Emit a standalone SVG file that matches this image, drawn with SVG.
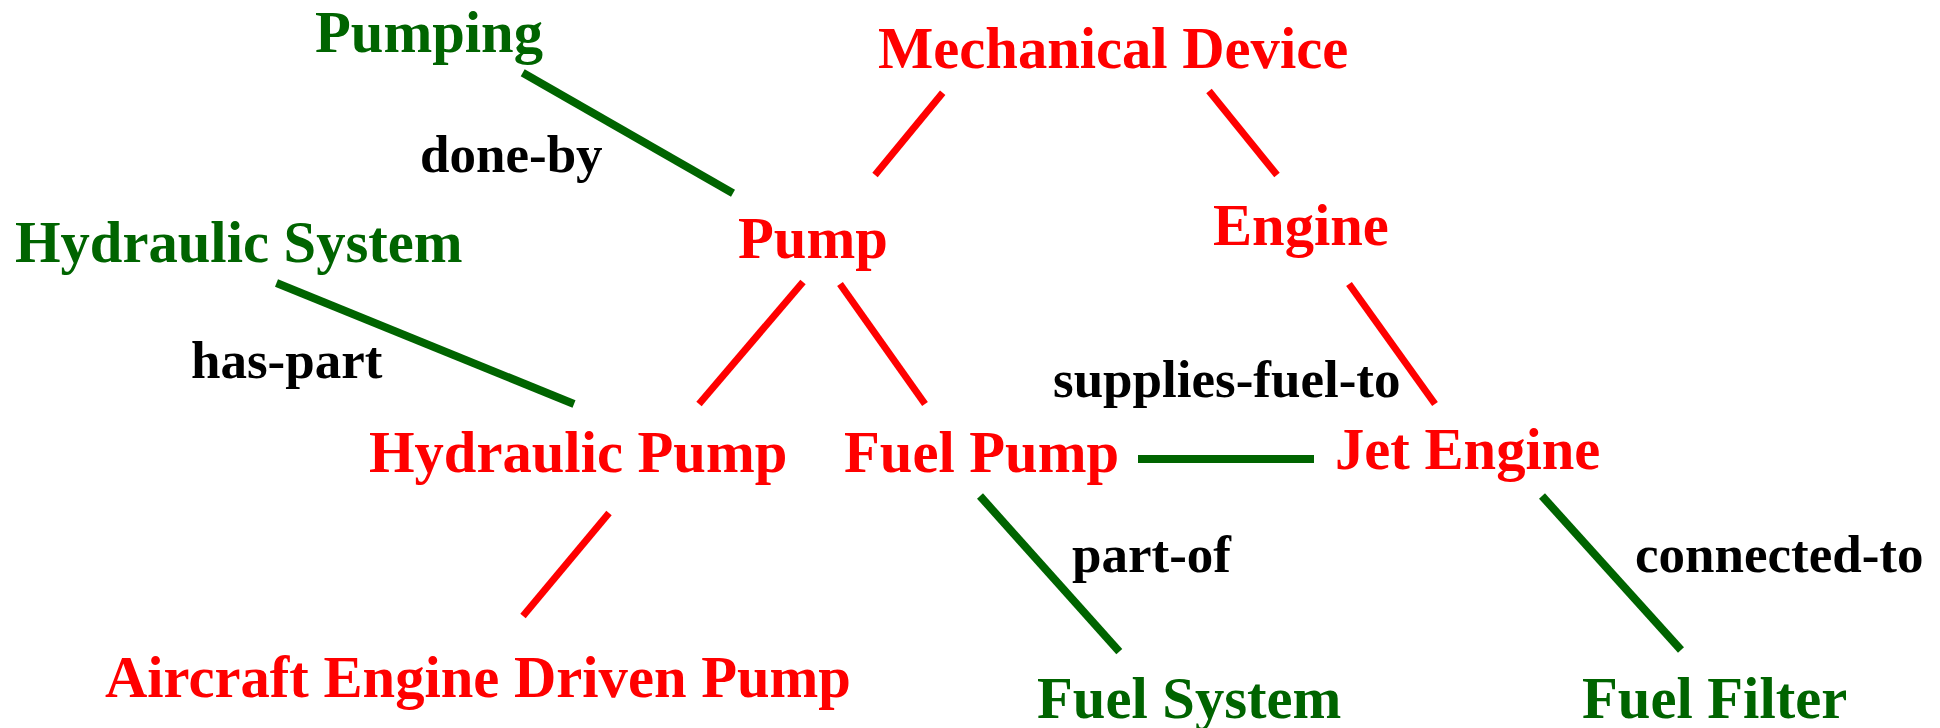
<svg xmlns="http://www.w3.org/2000/svg" width="1940" height="728" viewBox="0 0 1940 728">
<style>
text{font-family:"Liberation Serif","Times New Roman",serif;font-weight:bold}
.n{font-size:58.6px}
.r{fill:#ff0000}
.g{fill:#006400}
.l{font-size:53px;fill:#000}
.cr{stroke:#ff0000;stroke-width:7;fill:none}
.cg{stroke:#006400;stroke-width:8;fill:none}
</style>
<rect width="1940" height="728" fill="#fff"/>
<g id="connectors">
<line class="cg" x1="522.7" y1="72.7" x2="733" y2="193.3"/>
<line class="cr" x1="942.7" y1="92.7" x2="875" y2="175"/>
<line class="cr" x1="1209" y1="91" x2="1277" y2="175"/>
<line class="cg" x1="276.5" y1="283" x2="574" y2="404"/>
<line class="cr" x1="803" y1="282" x2="699" y2="404"/>
<line class="cr" x1="840" y1="284" x2="925" y2="404"/>
<line class="cr" x1="1349" y1="284" x2="1435" y2="404"/>
<line class="cg" x1="1138" y1="459" x2="1314" y2="459"/>
<line class="cr" x1="609" y1="513" x2="523" y2="616"/>
<line class="cg" x1="980" y1="496" x2="1119.3" y2="651.7"/>
<line class="cg" x1="1542" y1="496" x2="1681" y2="650"/>
<text class="l" x="420" y="172">done-by</text>
<text class="l" x="191" y="378">has-part</text>
<text class="l" x="1053" y="397">supplies-fuel-to</text>
<text class="l" x="1072" y="572">part-of</text>
<text class="l" x="1635" y="572">connected-to</text>
</g>
<g id="pumping"><text class="n g" x="315" y="52">Pumping</text></g>
<g id="mechanical-device"><text class="n r" x="878" y="68">Mechanical Device</text></g>
<g id="hydraulic-system"><text class="n g" x="15" y="262">Hydraulic System</text></g>
<g id="pump"><text class="n r" x="738" y="258">Pump</text></g>
<g id="engine"><text class="n r" x="1213" y="245">Engine</text></g>
<g id="hydraulic-pump"><text class="n r" x="369" y="472">Hydraulic Pump</text></g>
<g id="fuel-pump"><text class="n r" x="844" y="472">Fuel Pump</text></g>
<g id="jet-engine"><text class="n r" x="1335" y="469">Jet Engine</text></g>
<g id="aircraft-engine-driven-pump"><text class="n r" x="105" y="697">Aircraft Engine Driven Pump</text></g>
<g id="fuel-system"><text class="n g" x="1037" y="718">Fuel System</text></g>
<g id="fuel-filter"><text class="n g" x="1582" y="718">Fuel Filter</text></g>
</svg>
